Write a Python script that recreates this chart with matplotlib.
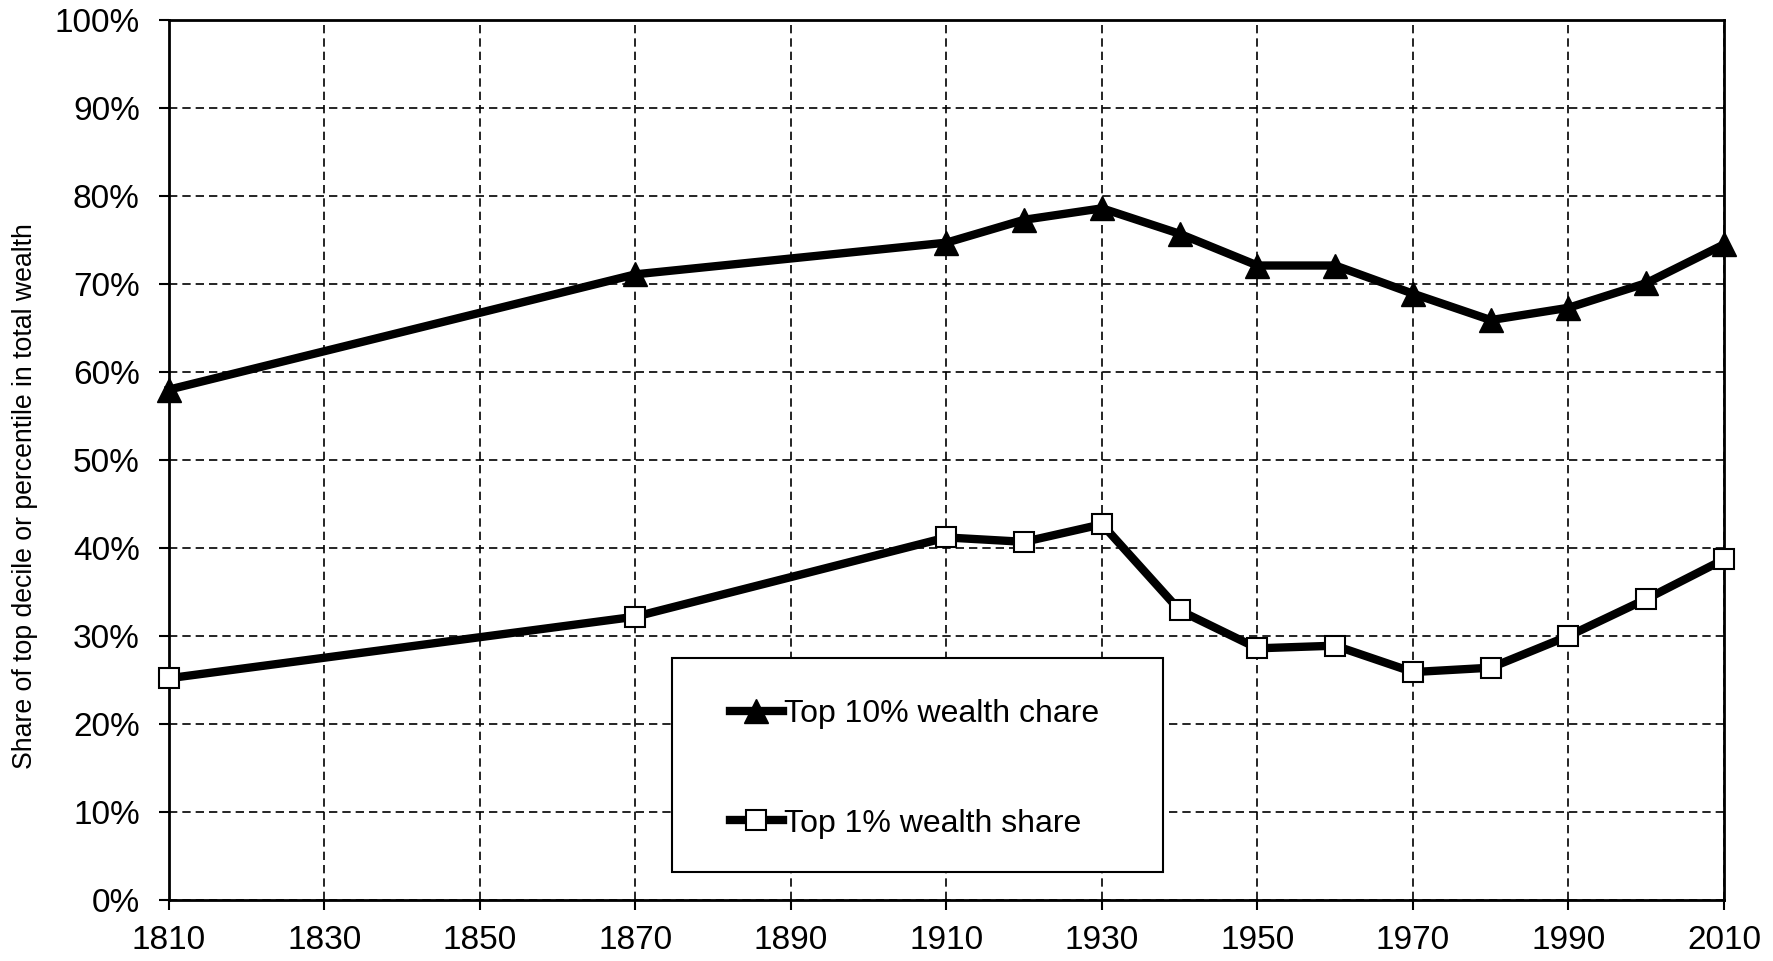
import matplotlib
matplotlib.use("Agg")
import matplotlib.pyplot as plt
from matplotlib.patches import Rectangle
from matplotlib.ticker import FuncFormatter, MultipleLocator

years = [1810, 1870, 1910, 1920, 1930, 1940, 1950, 1960, 1970, 1980, 1990, 2000, 2010]
top10 = [58.0, 71.1, 74.7, 77.3, 78.6, 75.7, 72.1, 72.1, 68.9, 65.9, 67.3, 70.1, 74.5]
top1 = [25.2, 32.2, 41.2, 40.7, 42.7, 32.9, 28.6, 28.9, 25.9, 26.4, 30.0, 34.2, 38.7]
xticks = [1810, 1830, 1850, 1870, 1890, 1910, 1930, 1950, 1970, 1990, 2010]
label10 = "Top 10% wealth chare"
label1 = "Top 1% wealth share"
ylabel = "Share of top decile or percentile in total wealth"

plt.rcParams['font.family'] = ['Liberation Sans', 'DejaVu Sans']

fig = plt.figure(figsize=(17.73, 9.61), dpi=100)
ax = fig.add_axes([169/1773, 1 - 900/961, 1555/1773, 880/961])

ax.set_xlim(1810, 2010)
ax.set_ylim(0, 100)
ax.set_xticks(xticks)
ax.yaxis.set_major_locator(MultipleLocator(10))
ax.yaxis.set_major_formatter(FuncFormatter(lambda v, p: f"{int(round(v))}%"))

ax.grid(True, color='black', linestyle=(0, (5, 3)), linewidth=1.2)
ax.set_axisbelow(True)

for s in ax.spines.values():
    s.set_linewidth(2)
    s.set_color('black')

ax.tick_params(direction='out', length=7, width=1.5, labelsize=24, colors='black')
ax.tick_params(axis='y', pad=14)
ax.tick_params(axis='x', pad=11)

l10, = ax.plot(years, top10, color='black', linewidth=6, marker='^', markersize=17,
               markerfacecolor='black', markeredgecolor='black', clip_on=False, zorder=3,
               label=label10)
l1, = ax.plot(years, top1, color='black', linewidth=6, marker='s', markersize=14,
              markerfacecolor='white', markeredgecolor='black', markeredgewidth=1.5,
              clip_on=False, zorder=3, label=label1)

ax.set_ylabel(ylabel, fontsize=19.2)
ax.yaxis.set_label_coords(-0.0842, 0.459)

# legend frame
x0 = (672 - 169) / 1555
x1 = (1163 - 169) / 1555
y0 = (900 - 872) / 880
y1 = (900 - 658) / 880
ax.add_patch(Rectangle((x0, y0), x1 - x0, y1 - y0, transform=ax.transAxes,
                       facecolor='white', edgecolor='black', linewidth=1.5, zorder=4))
leg = ax.legend(handles=[l10, l1], loc='center left',
                bbox_to_anchor=((730 - 169) / 1555, (900 - 769) / 880),
                frameon=False, fontsize=23, handlelength=1.65, handletextpad=0.05,
                labelspacing=2.48, borderpad=0, borderaxespad=0)
leg.set_zorder(5)

fig.savefig("out.png", dpi=100)
